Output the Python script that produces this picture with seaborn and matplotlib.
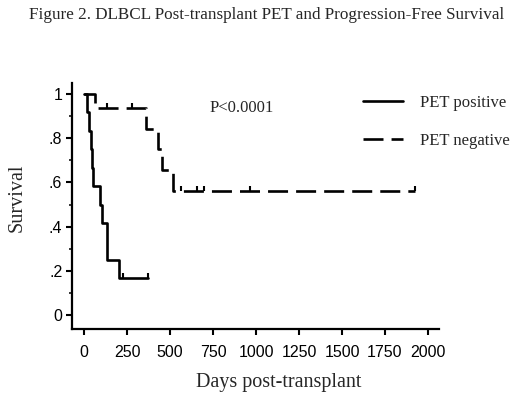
import matplotlib
matplotlib.use("Agg")
import matplotlib.pyplot as plt
import numpy as np
import pandas as pd
import seaborn as sns

# step curves (days, survival)
pos_days = [0, 16, 31, 39, 45, 51, 93, 103, 132, 202, 370]
pos_surv = [1.0, 0.917, 0.833, 0.75, 0.667, 0.583, 0.5, 0.417, 0.25, 0.167, 0.167]
pos_censor = [225, 370]

neg_days = [0, 64, 360, 432, 452, 519, 1924]
neg_surv = [1.0, 0.9375, 0.844, 0.75, 0.656, 0.5625, 0.5625]
neg_censor = [132, 277, 562, 655, 698, 965, 1924]

groups = ["PET positive", "PET negative"]
x_ticks = [0, 250, 500, 750, 1000, 1250, 1500, 1750, 2000]
y_ticks = [0, 0.2, 0.4, 0.6, 0.8, 1.0]
y_tick_labels = ["0", ".2", ".4", ".6", ".8", "1"]

SERIF = "Liberation Serif"
SANS = "Liberation Sans"
LW = 1.9
DASH = (14.4 / LW, 5.8 / LW)


def step_value(days, surv, t):
    idx = np.searchsorted(days, t, side="right") - 1
    return surv[max(idx, 0)]


def main() -> None:
    sns.set_theme(style="ticks")
    plt.rcParams["font.family"] = [SANS, "DejaVu Sans"]

    curves = pd.concat(
        [
            pd.DataFrame({"days": pos_days, "survival": pos_surv, "group": groups[0]}),
            pd.DataFrame({"days": neg_days, "survival": neg_surv, "group": groups[1]}),
        ],
        ignore_index=True,
    )

    fig = plt.figure(figsize=(5.2, 3.98), dpi=100)
    ax = fig.add_axes([72 / 520, 1 - 329 / 398, (439 - 72) / 520, (329 - 83) / 398])

    sns.lineplot(
        data=curves, x="days", y="survival", hue="group", style="group",
        palette={groups[0]: "black", groups[1]: "black"},
        dashes={groups[0]: "", groups[1]: DASH},
        drawstyle="steps-post", estimator=None, linewidth=LW, ax=ax,
    )

    for days, surv, cens in [(pos_days, pos_surv, pos_censor), (neg_days, neg_surv, neg_censor)]:
        cy = [step_value(days, surv, t) for t in cens]
        ax.plot(cens, cy, ls="none", marker=2, markersize=3.5, mew=1.5, color="black")

    ax.set_xlim(-70, 2064)
    ax.set_ylim(-0.063, 1.05)
    ax.set_xticks(x_ticks)
    ax.set_xticklabels([str(v) for v in x_ticks])
    ax.set_yticks(y_ticks)
    ax.set_yticklabels(y_tick_labels)
    ax.set_yticks(np.arange(0.1, 1.0, 0.2), minor=True)
    ax.tick_params(axis="both", which="major", direction="out", length=4, width=1.5,
                   labelsize=11.5, colors="black")
    ax.tick_params(axis="x", pad=7.5)
    ax.tick_params(axis="y", pad=3)
    ax.tick_params(axis="y", which="minor", direction="out", length=2.5, width=1.3)
    for side in ["top", "right"]:
        ax.spines[side].set_visible(False)
    for side in ["left", "bottom"]:
        ax.spines[side].set_linewidth(1.6)
        ax.spines[side].set_color("black")

    ax.set_xlabel("")
    ax.set_ylabel("")
    fig.text(17 / 520, 1 - 198 / 398, "Survival", rotation=90, ha="center", va="center",
             family=SERIF, fontsize=14.5)
    fig.text(279 / 520, 1 - 383 / 398, "Days post-transplant", ha="center", va="center",
             family=SERIF, fontsize=14.5)
    fig.text(267 / 520, 1 - 15 / 398,
             "Figure 2. DLBCL Post-transplant PET and Progression-Free Survival",
             ha="center", va="center", family=SERIF, fontsize=12.3)
    fig.text(210 / 520, 1 - 108 / 398, "P<0.0001", ha="left", va="center",
             family=SERIF, fontsize=12)

    sns.move_legend(
        ax, "center left", bbox_to_anchor=(355 / 520, 1 - 122 / 398),
        bbox_transform=fig.transFigure, title=None, frameon=False,
        prop={"family": SERIF, "size": 12}, borderpad=0, handlelength=2.4,
        handletextpad=1.0, labelspacing=1.3,
    )

    fig.savefig("out.png", dpi=100)
    plt.close(fig)


if __name__ == "__main__":
    main()
